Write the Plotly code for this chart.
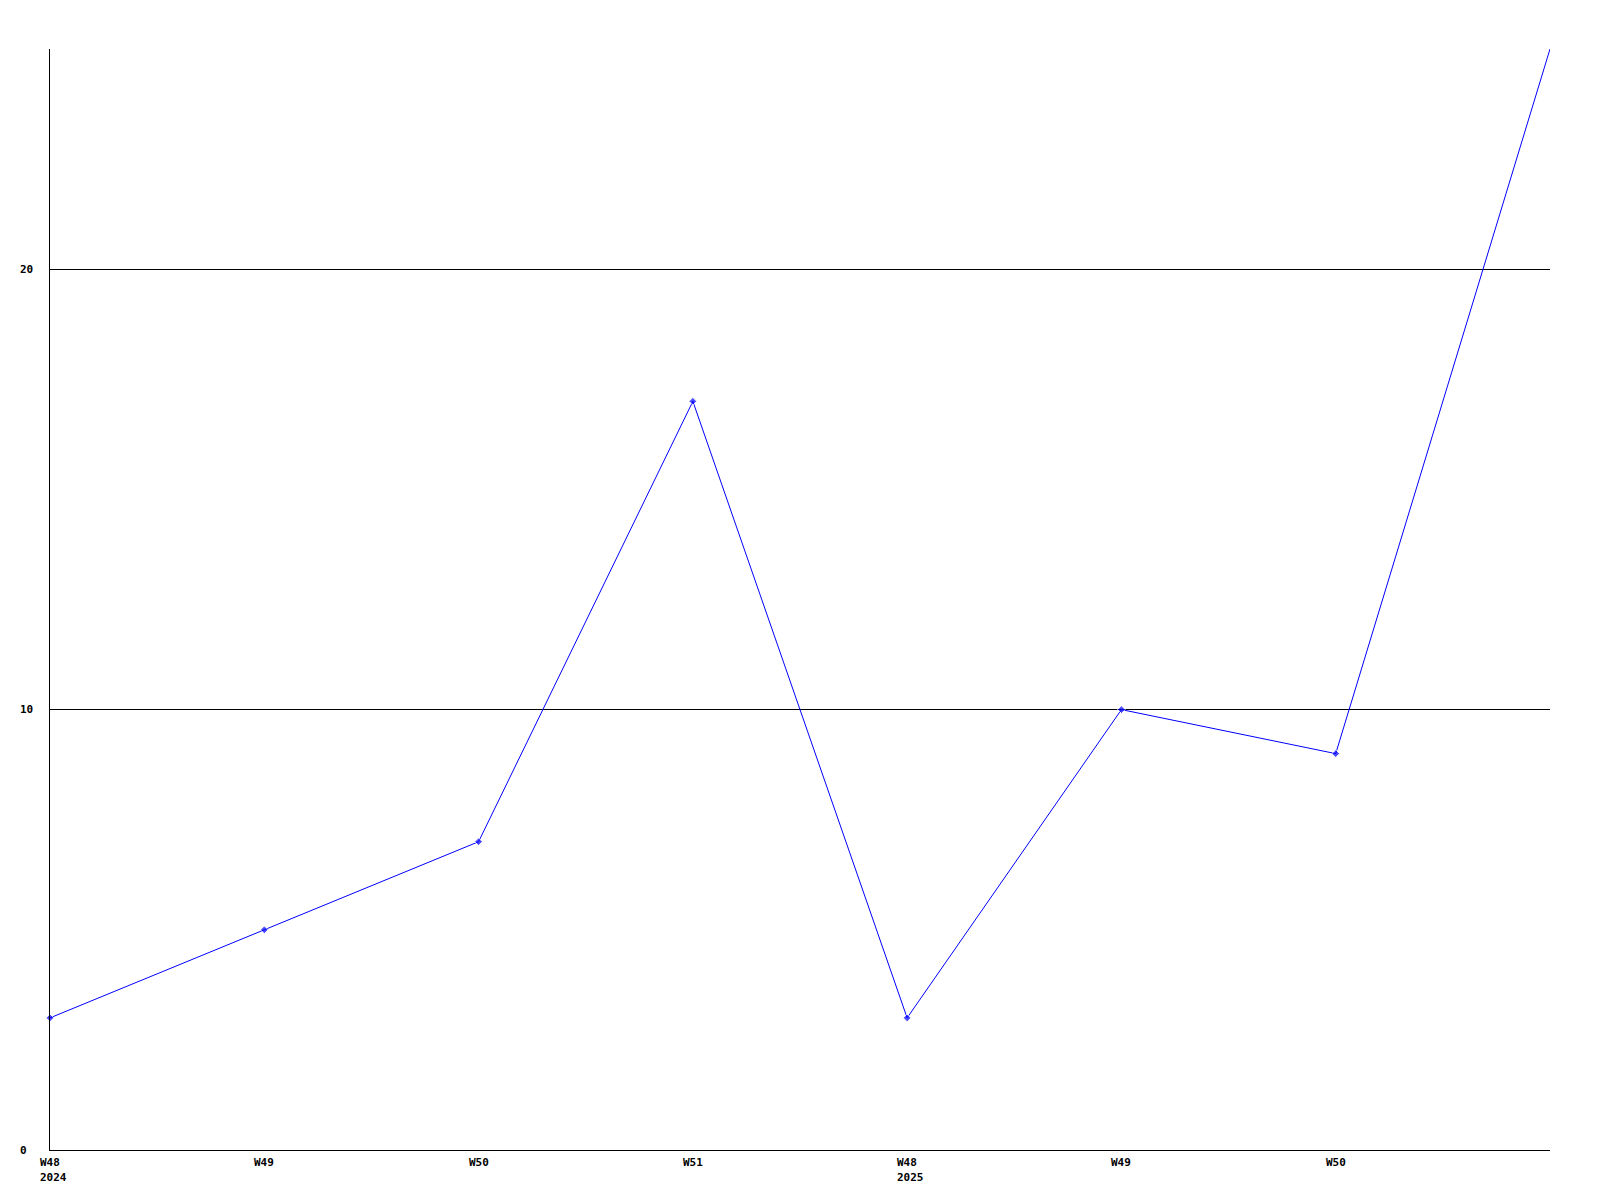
import plotly.graph_objects as go

week_labels = ["W48", "W49", "W50", "W51", "W48", "W49", "W50", "W51"]
year_labels = {0: "2024", 4: "2025"}
values = [3, 5, 7, 17, 3, 10, 9, 25]
y_ticks = [0, 10, 20]

x_pos = list(range(len(values)))
FONT = dict(family="DejaVu Sans Mono", size=11, color="black", weight="bold")

# last point sits at the chart's top-right corner and shows no marker
marker_sizes = [6] * (len(values) - 1) + [0]

fig = go.Figure()
fig.add_trace(go.Scatter(
    x=x_pos, y=values, mode="lines+markers",
    line=dict(color="#0000ff", width=1),
    marker=dict(symbol="diamond", size=marker_sizes, color="#0000ff"),
    hoverinfo="skip", showlegend=False, cliponaxis=False,
))

annotations = []
for i in range(len(week_labels) - 1):
    annotations.append(dict(x=i, y=0, xref="x", yref="paper", text=week_labels[i],
                            showarrow=False, xanchor="center", yanchor="top",
                            yshift=-4, font=FONT))
for i, yr in year_labels.items():
    annotations.append(dict(x=i, y=0, xref="x", yref="paper", text=yr,
                            showarrow=False, xanchor="left", yanchor="top",
                            xshift=-12, yshift=-19, font=FONT))
for t in y_ticks:
    annotations.append(dict(x=0, y=t, xref="paper", yref="y", text=str(t),
                            showarrow=False, xanchor="left", yanchor="middle",
                            xshift=-32, font=FONT))

fig.update_layout(
    width=1600, height=1200,
    margin=dict(l=42, r=58, t=41, b=58),
    paper_bgcolor="white", plot_bgcolor="white",
    xaxis=dict(range=[0, 7], showgrid=False, zeroline=False, showline=True,
               linecolor="black", linewidth=1, showticklabels=False, ticks=""),
    yaxis=dict(range=[0, 25], tickvals=y_ticks, showgrid=True, gridcolor="black",
               gridwidth=1, zeroline=False, showline=True, linecolor="black",
               linewidth=1, showticklabels=False, ticks=""),
    annotations=annotations,
)
fig.write_html("out.html")
